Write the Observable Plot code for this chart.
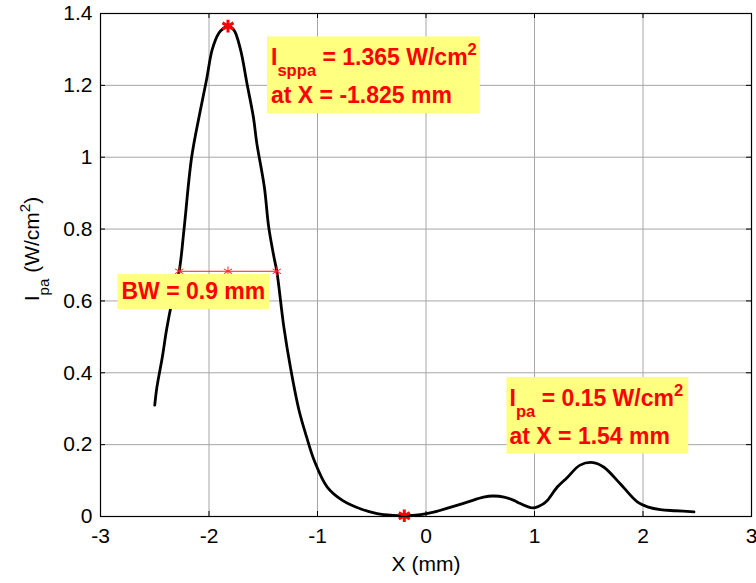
<!DOCTYPE html>
<html>
<head>
<meta charset="utf-8">
<script src="https://cdn.jsdelivr.net/npm/d3@7"></script>
<script src="https://cdn.jsdelivr.net/npm/@observablehq/plot@0.6"></script>
<style>
  html, body { margin: 0; padding: 0; background: #fff; }
</style>
</head>
<body>
<div id="chart"></div>
<script>
// Lateral pulse-average intensity profile across the beam
const xMm = [-2.50, -2.48, -2.43, -2.39, -2.34, -2.275, -2.23, -2.16, -2.08, -2.02, -1.97, -1.91, -1.87,
  -1.825, -1.77, -1.71, -1.65, -1.59, -1.56, -1.49, -1.45, -1.40, -1.375, -1.31, -1.25, -1.17, -1.10,
  -1.03, -0.91, -0.77, -0.60, -0.45, -0.30, -0.20, -0.05, 0.07, 0.23, 0.38, 0.53, 0.62, 0.72, 0.81,
  0.87, 0.99, 1.08, 1.12, 1.21, 1.30, 1.42, 1.54, 1.64, 1.79, 1.95, 2.05, 2.16, 2.30, 2.47];
const intensity = [0.31, 0.36, 0.444, 0.522, 0.60, 0.6825, 0.80, 1.0, 1.13, 1.22, 1.30, 1.345, 1.358,
  1.365, 1.354, 1.30, 1.205, 1.11, 1.04, 0.917, 0.806, 0.72, 0.6825, 0.527, 0.416, 0.295, 0.221,
  0.156, 0.082, 0.045, 0.021, 0.008, 0.003, 0.002, 0.005, 0.012, 0.026, 0.040, 0.054, 0.057, 0.054, 0.045,
  0.036, 0.024, 0.035, 0.045, 0.082, 0.108, 0.143, 0.150, 0.137, 0.091, 0.040, 0.026, 0.019, 0.016, 0.013];

// Spatial-peak values and beam width
const peakX = -1.825, peakI = 1.365;
const sideX = 1.54, sideI = 0.15;
const minX = -0.2, minI = 0.002;
const beamWidth = 0.9;

const xTicks = [-3, -2, -1, 0, 1, 2, 3];
const yTicks = [0, 0.2, 0.4, 0.6, 0.8, 1, 1.2, 1.4];

const xLabel = "X (mm)";
const yLabel = "I_{pa} (W/cm^{2})";
const peakLines = [`I_{sppa} = ${peakI} W/cm^{2}`, `at X = ${peakX} mm`];
const sideLines = [`I_{pa} = ${sideI} W/cm^{2}`, `at X = ${sideX} mm`];
const bwText = `BW = ${beamWidth} mm`;

const profile = xMm.map((x, i) => ({x, y: intensity[i]}));
const halfMax = peakI / 2;
const bwPoints = [peakX - beamWidth / 2, peakX, peakX + beamWidth / 2].map(x => ({x, y: halfMax}));

const W = 756, H = 583;
const mTop = 13, mRight = 5, mBottom = 67, mLeft = 100;
const frameW = W - mLeft - mRight, frameH = H - mTop - mBottom;
const tickLen = 5;
const font = '"Liberation Sans", Arial, Helvetica, sans-serif';
const noteStyle = {fill: "#ff0000", fontWeight: "bold", fontSize: 23, textAnchor: "start", fontFamily: font};

function note(name, px, py, text, dx, dy) {
  return Plot.text([text], {x: () => px, y: () => py, text: d => d, dx, dy, ariaDescription: name, ...noteStyle});
}

const chart = Plot.plot({
  width: W,
  height: H,
  marginTop: mTop,
  marginRight: mRight,
  marginBottom: mBottom,
  marginLeft: mLeft,
  style: {fontFamily: font, fontSize: "21px", background: "#fff", color: "#000", overflow: "visible"},
  x: {domain: [-3, 3], ticks: xTicks, tickSize: 0, tickPadding: 12, tickFormat: d => String(d), label: null},
  y: {domain: [0, 1.4], ticks: yTicks, tickSize: 0, tickPadding: 8, tickFormat: d => String(d), label: null},
  marks: [
    // grid
    Plot.ruleX(xTicks, {x: d => d, stroke: "#a6a6a6", strokeWidth: 1}),
    Plot.ruleY(yTicks, {y: d => d, stroke: "#a6a6a6", strokeWidth: 1}),
    // intensity profile
    Plot.line(profile, {x: "x", y: "y", stroke: "#000", strokeWidth: 2.8, curve: "catmull-rom"}),
    // half-maximum beam width
    Plot.line(bwPoints, {x: "x", y: "y", stroke: "#ff2020", strokeWidth: 1}),
    Plot.dot(bwPoints, {x: "x", y: "y", symbol: "asterisk", r: 4.5, stroke: "#ff2020", strokeWidth: 1}),
    // peak and minimum markers
    Plot.dot([{x: peakX, y: peakI}, {x: minX, y: minI}], {x: "x", y: "y", symbol: "asterisk", r: 6, stroke: "#ff0000", strokeWidth: 3}),
    // annotations
    note("note-peak", peakX, peakI, peakLines[0], 43, 31.6),
    note("note-peak", peakX, peakI, peakLines[1], 43, 69.6),
    note("note-bw", bwPoints[0].x, halfMax, bwText, -57.7, 20.3),
    note("note-side", sideX, sideI, sideLines[0], -83.6, -64.4),
    note("note-side", sideX, sideI, sideLines[1], -83.6, -26.4),
    // box and inward ticks
    Plot.frame({stroke: "#000", strokeWidth: 1.2}),
    Plot.tickX(xTicks, {x: d => d, insetTop: frameH - tickLen, stroke: "#000"}),
    Plot.tickX(xTicks, {x: d => d, insetBottom: frameH - tickLen, stroke: "#000"}),
    Plot.tickY(yTicks, {y: d => d, insetRight: frameW - tickLen, stroke: "#000"}),
    Plot.tickY(yTicks, {y: d => d, insetLeft: frameW - tickLen, stroke: "#000"}),
    // axis titles
    Plot.text([xLabel], {frameAnchor: "bottom", dy: 54, text: d => d, fontSize: 21, fill: "#000"}),
    Plot.text([yLabel], {frameAnchor: "left", textAnchor: "middle", rotate: -90, dx: -68, dy: -16, text: d => d, fontSize: 21, fill: "#000"})
  ]
});

document.getElementById("chart").appendChild(chart);

// Turn _{..} and ^{..} markup into sub/superscript tspans
const svgNS = "http://www.w3.org/2000/svg";
function richText(el) {
  const src = el.textContent;
  if (!/[_^]\{/.test(src)) return;
  const base = parseFloat(getComputedStyle(el).fontSize);
  el.textContent = "";
  const re = /([_^])\{([^}]*)\}|([^_^]+)/g;
  let m, shift = 0;
  while ((m = re.exec(src))) {
    const t = document.createElementNS(svgNS, "tspan");
    let target = 0;
    if (m[1]) {
      target = m[1] === "_" ? 0.48 * base : -0.42 * base;
      t.setAttribute("font-size", (0.72 * base).toFixed(1));
      t.textContent = m[2];
    } else {
      t.textContent = m[3];
    }
    if (target !== shift) { t.setAttribute("dy", (target - shift).toFixed(2)); shift = target; }
    el.appendChild(t);
  }
}
chart.querySelectorAll("text").forEach(richText);

// Yellow backgrounds behind each annotation
function backBox(name, pad) {
  const groups = chart.querySelectorAll(`g[aria-description="${name}"]`);
  if (!groups.length) return;
  const origin = chart.getBoundingClientRect();
  let x0 = Infinity, y0 = Infinity, x1 = -Infinity, y1 = -Infinity;
  groups.forEach(g => g.querySelectorAll("text").forEach(t => {
    const r = t.getBoundingClientRect();
    x0 = Math.min(x0, r.left); y0 = Math.min(y0, r.top);
    x1 = Math.max(x1, r.right); y1 = Math.max(y1, r.bottom);
  }));
  const rect = document.createElementNS(svgNS, "rect");
  rect.setAttribute("x", x0 - origin.left - pad[3]);
  rect.setAttribute("y", y0 - origin.top - pad[0]);
  rect.setAttribute("width", x1 - x0 + pad[1] + pad[3]);
  rect.setAttribute("height", y1 - y0 + pad[0] + pad[2]);
  rect.setAttribute("fill", "#ffff80");
  groups[0].parentNode.insertBefore(rect, groups[0]);
}
backBox("note-peak", [4, 3, 5, 4]);
backBox("note-bw", [4, 4, 5, 4]);
backBox("note-side", [4, 5, 5, 3]);
</script>
</body>
</html>
